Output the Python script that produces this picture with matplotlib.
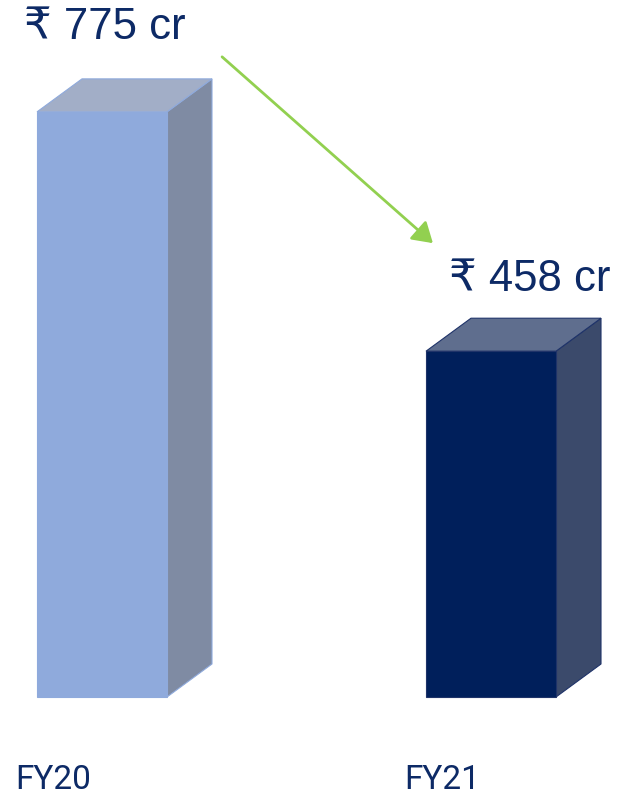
import matplotlib
matplotlib.use("Agg")
import matplotlib.pyplot as plt
from matplotlib.patches import Polygon, FancyArrowPatch

categories = ["FY20", "FY21"]
values = [775, 458]
value_labels = ["₹ 775 cr", "₹ 458 cr"]

front_colors = ["#8faadc", "#001f5b"]
side_colors = ["#7f8ba3", "#3b4a6b"]
top_colors = ["#a2aec7", "#5f6e8e"]
edge_colors = ["#8faadc", "#1f3369"]
text_color = "#0d2a66"

W, H, DPI = 618, 795, 100
fig = plt.figure(figsize=(W / DPI, H / DPI), dpi=DPI)
ax = fig.add_axes([0, 0, 1, 1])

# pixel -> data mapping helpers (style/layout)
px_per_x = 389.0
px_per_y = 0.755
base_px_from_bottom = 98
first_center_px = 102
ax.set_xlim(-first_center_px / px_per_x, (W - first_center_px) / px_per_x)
ax.set_ylim(-base_px_from_bottom / px_per_y, (H - base_px_from_bottom) / px_per_y)
ax.axis("off")

bar_w = 130 / px_per_x
dx = 45 / px_per_x
dy = 33 / px_per_y
xs = list(range(len(categories)))

bars = ax.bar(xs, values, width=bar_w, color=front_colors, edgecolor=edge_colors,
              linewidth=0.8, zorder=3)
for i, b in enumerate(bars):
    x0 = b.get_x()
    x1 = x0 + b.get_width()
    h = b.get_height()
    side = Polygon([(x1, 0), (x1 + dx, dy), (x1 + dx, h + dy), (x1, h)],
                   closed=True, facecolor=side_colors[i], edgecolor=edge_colors[i],
                   linewidth=0.8, zorder=2)
    top = Polygon([(x0, h), (x1, h), (x1 + dx, h + dy), (x0 + dx, h + dy)],
                  closed=True, facecolor=top_colors[i], edgecolor=edge_colors[i],
                  linewidth=0.8, zorder=2)
    ax.add_patch(side)
    ax.add_patch(top)

fam = ["Liberation Sans", "DejaVu Sans"]
label_dx_px = [3, 39]
label_dy_px = [84, 72]
for i, b in enumerate(bars):
    cx = b.get_x() + b.get_width() / 2
    ax.annotate(value_labels[i], xy=(cx, b.get_height()),
                xytext=(label_dx_px[i] * 72 / DPI, label_dy_px[i] * 72 / DPI),
                textcoords="offset points", ha="center", va="center",
                fontsize=31.5, color=text_color, family=fam)
    ax.annotate(categories[i], xy=(b.get_x(), 0),
                xytext=(-22 * 72 / DPI, -92 * 72 / DPI),
                textcoords="offset points", ha="left", va="baseline",
                fontsize=24, color=text_color, family=["Roboto", "DejaVu Sans"])

# green arrow from first to second label
arrow = FancyArrowPatch(posA=(220 / W, 1 - 55 / H), posB=(435 / W, 1 - 245 / H),
                        transform=fig.transFigure, arrowstyle="-|>,head_length=8,head_width=5",
                        color="#92d050", linewidth=2, mutation_scale=1.5)
fig.patches.append(arrow)

fig.savefig("out.png", dpi=DPI, facecolor="white")
